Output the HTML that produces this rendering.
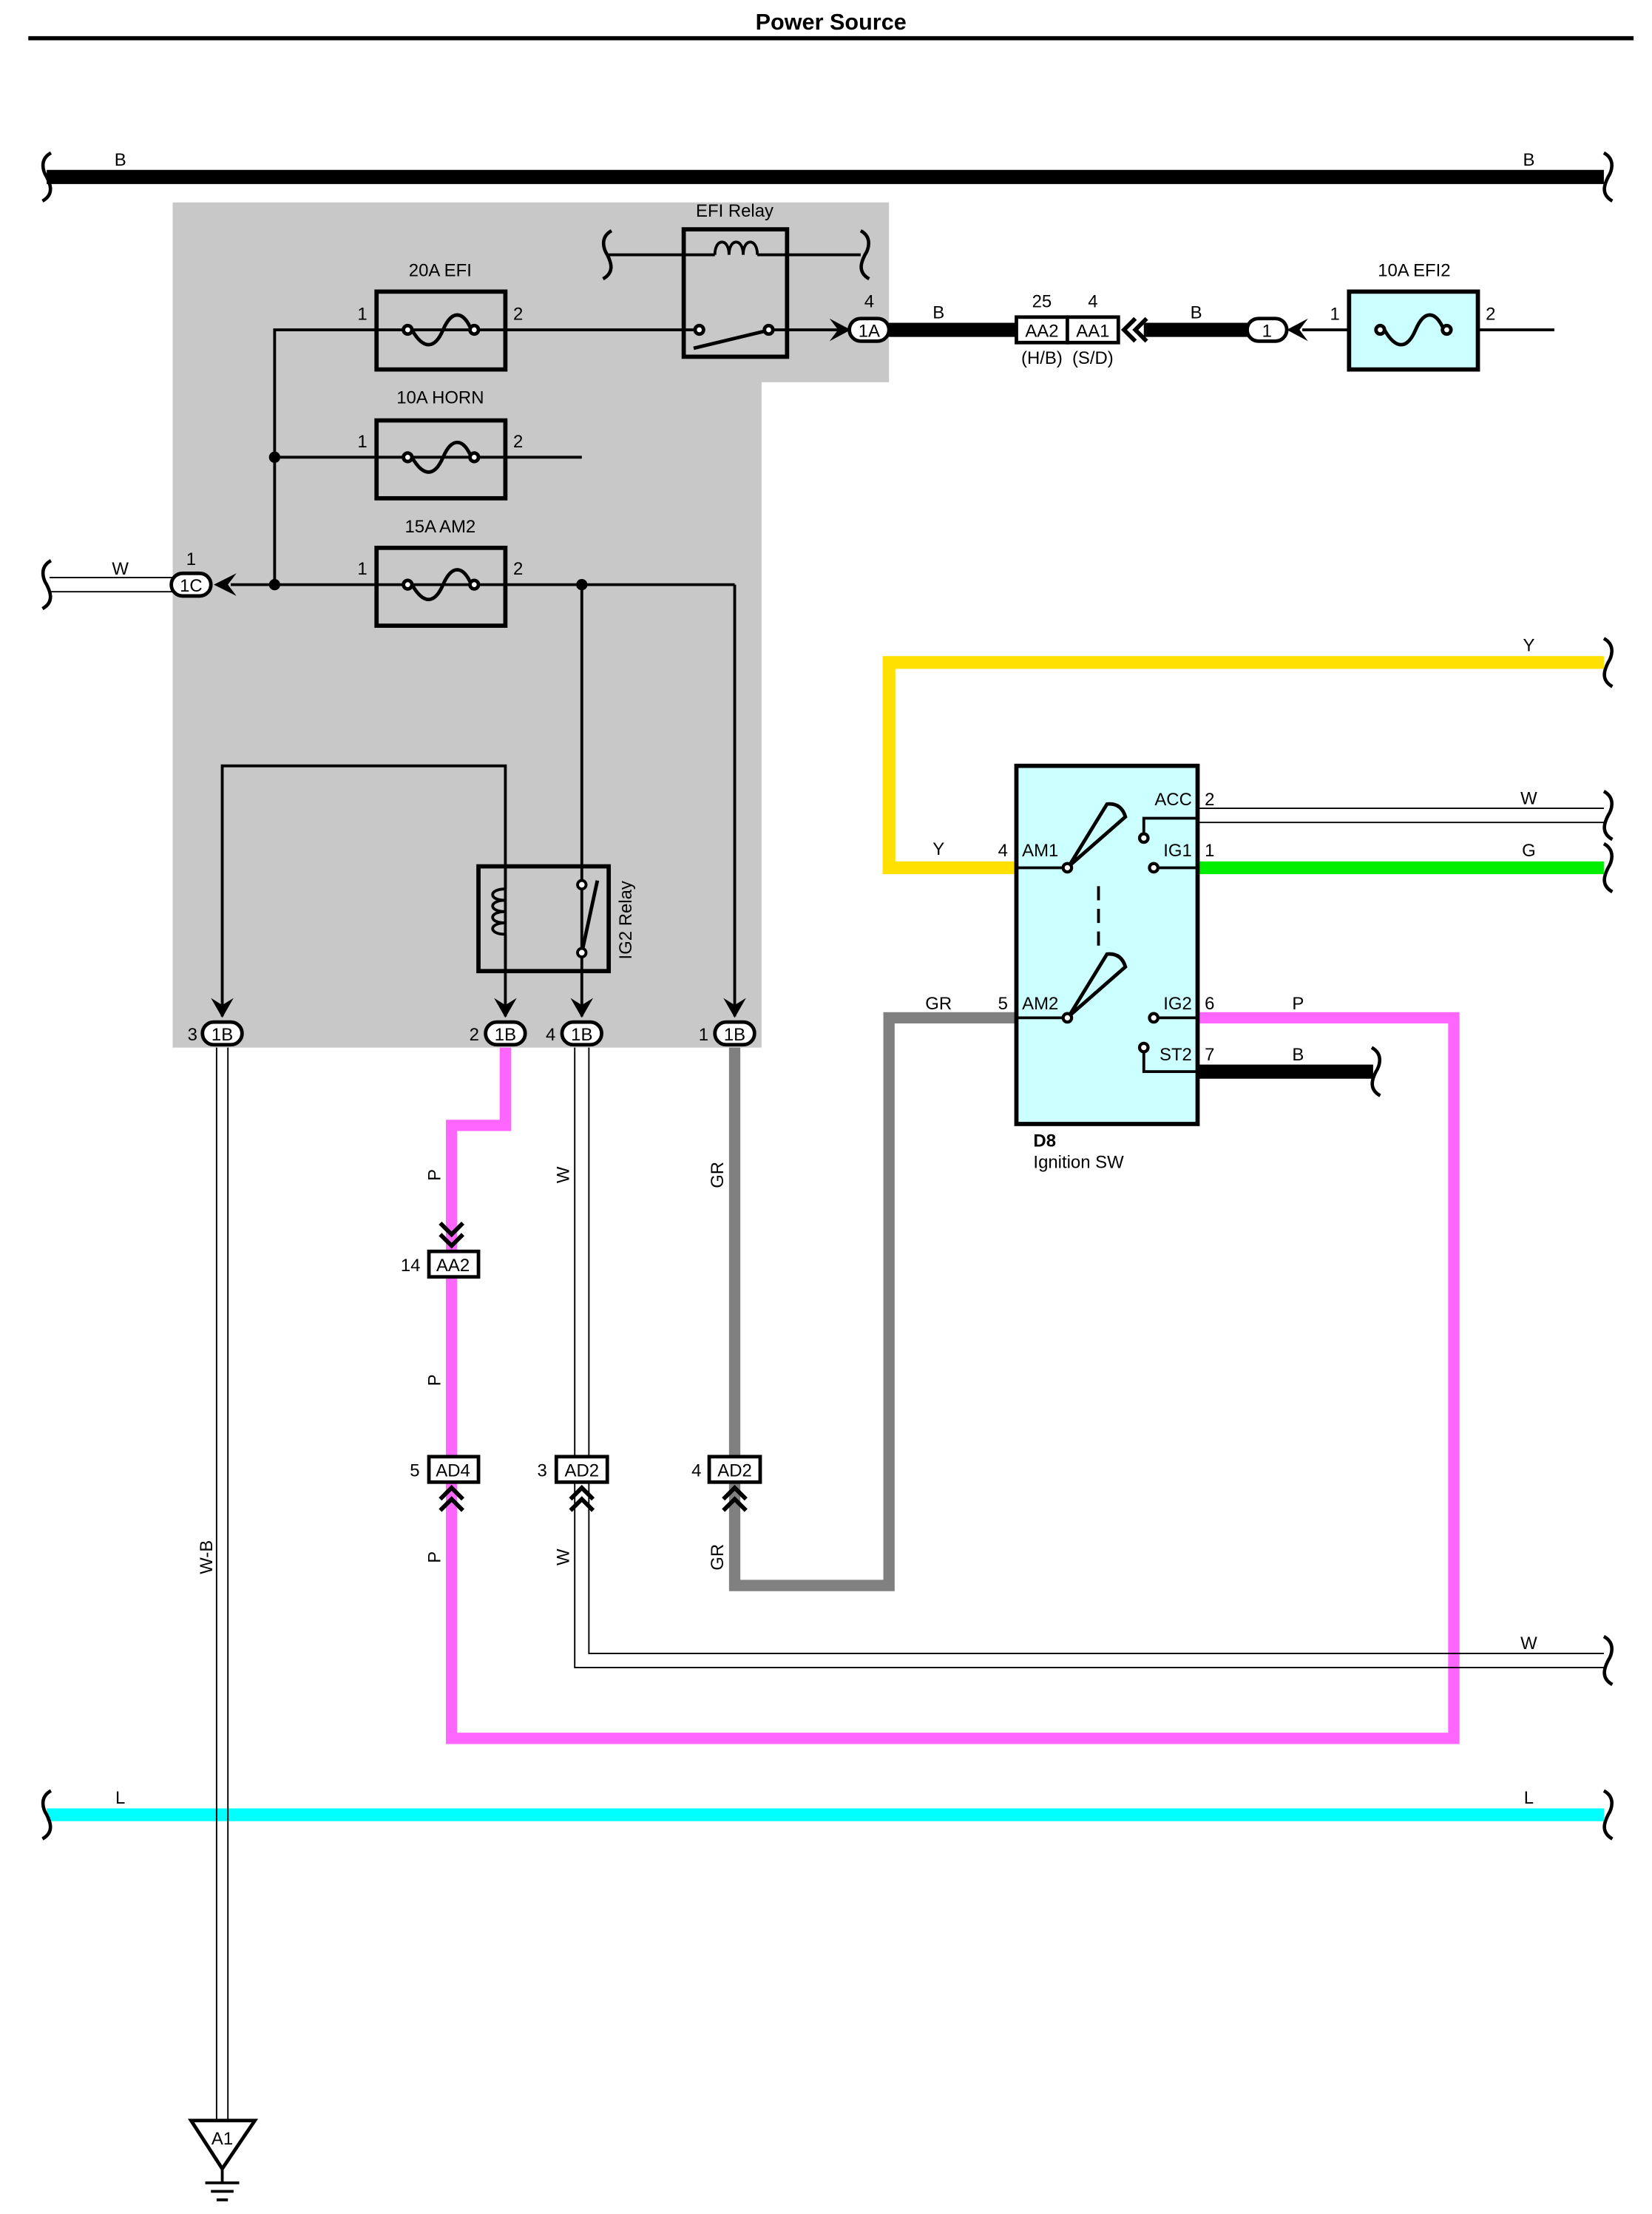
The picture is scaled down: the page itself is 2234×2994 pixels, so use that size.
<!DOCTYPE html>
<html><head><meta charset="utf-8"><style>
html,body{margin:0;padding:0;background:#fff}
svg{display:block}
text{font-family:"Liberation Sans",sans-serif;font-size:12.5px;fill:#000}
</style></head><body>
<svg width="2234" height="2994" viewBox="0 0 1167 1564" preserveAspectRatio="none" xmlns="http://www.w3.org/2000/svg">
<defs>
<path id="sq" d="M2,-17 C-7,-12 -3,-3 -1,0 C1,4 5,12 -4,17" fill="none" stroke="#000" stroke-width="2.4"/>
<path id="sqr" d="M-2,-17 C7,-12 3,-3 1,0 C-1,4 -5,12 4,17" fill="none" stroke="#000" stroke-width="2.4"/>
</defs>
<text x="587" y="21" text-anchor="middle" font-weight="bold" style="font-size:16px">Power Source</text>
<line x1="20" y1="27" x2="1154" y2="27" stroke="#000" stroke-width="3"/>

<!-- B bus -->
<line x1="33" y1="125" x2="1133" y2="125" stroke="#000" stroke-width="10"/>
<use href="#sq" x="34" y="125"/><use href="#sqr" x="1135" y="125"/>
<text x="85" y="117" text-anchor="middle">B</text><text x="1080" y="117" text-anchor="middle">B</text>

<!-- grey area -->
<polygon points="122,143 628,143 628,270 538,270 538,740 122,740" fill="#c8c8c8"/>

<g stroke="#000" stroke-width="2" fill="none">
<polyline points="194,413 194,233 493,233"/>
<line x1="194" y1="323" x2="411" y2="323"/>
<line x1="163" y1="413" x2="519" y2="413"/>
<polyline points="411,413 411,718"/>
<polyline points="519,413 519,718"/>
<polyline points="157,718 157,541 357,541 357,718"/>
<line x1="543" y1="233" x2="598" y2="233"/>
<line x1="920" y1="233" x2="1098" y2="233"/>
<line x1="430" y1="180" x2="505" y2="180"/><line x1="535" y1="180" x2="608" y2="180"/>
<path d="M505,180 c0,-12 10,-12 10,0 c0,-12 10,-12 10,0 c0,-12 10,-12 10,0"/>
</g>
<use href="#sq" x="430" y="180"/><use href="#sqr" x="610" y="180"/>
<circle cx="194" cy="323" r="4"/><circle cx="194" cy="413" r="4"/><circle cx="411" cy="413" r="4"/>

<g stroke="#000" stroke-width="3" fill="none">
<rect x="266" y="206" width="91" height="55"/>
<rect x="266" y="297" width="91" height="55"/>
<rect x="266" y="387" width="91" height="55"/>
<rect x="953" y="206" width="91" height="55" fill="#ccffff"/>
<rect x="483" y="162" width="73" height="90"/>
</g>
<g stroke="#000" stroke-width="2.5" fill="#fff">
<path d="M291,233 c8,14 16,14 22,0 c6,-14 14,-14 20,0" fill="none"/>
<path d="M291,323 c8,14 16,14 22,0 c6,-14 14,-14 20,0" fill="none"/>
<path d="M291,413 c8,14 16,14 22,0 c6,-14 14,-14 20,0" fill="none"/>
<path d="M978,233 c8,14 16,14 22,0 c6,-14 14,-14 20,0" fill="none"/>
<circle cx="288" cy="233" r="3"/><circle cx="335" cy="233" r="3"/>
<circle cx="288" cy="323" r="3"/><circle cx="335" cy="323" r="3"/>
<circle cx="288" cy="413" r="3"/><circle cx="335" cy="413" r="3"/>
<circle cx="975" cy="233" r="3"/><circle cx="1022" cy="233" r="3"/>
<line x1="490" y1="246" x2="540" y2="234"/>
<circle cx="494" cy="233" r="3"/><circle cx="543" cy="233" r="3"/>
</g>
<text x="311" y="195" text-anchor="middle">20A EFI</text>
<text x="311" y="285" text-anchor="middle">10A HORN</text>
<text x="311" y="376" text-anchor="middle">15A AM2</text>
<text x="999" y="195" text-anchor="middle">10A EFI2</text>
<text x="519" y="153" text-anchor="middle">EFI Relay</text>
<g text-anchor="middle">
<text x="256" y="226">1</text><text x="366" y="226">2</text>
<text x="256" y="316">1</text><text x="366" y="316">2</text>
<text x="256" y="406">1</text><text x="366" y="406">2</text>
<text x="943" y="226">1</text><text x="1053" y="226">2</text>
</g>

<polygon points="586,225 601,233 586,241 592,233" fill="#000"/>
<rect x="600" y="225" width="28" height="16" rx="8" fill="#fff" stroke="#000" stroke-width="2.5"/>
<text x="614" y="238" text-anchor="middle">1A</text><text x="614" y="217" text-anchor="middle">4</text>
<line x1="628" y1="233" x2="718" y2="233" stroke="#000" stroke-width="10"/>
<text x="663" y="225" text-anchor="middle">B</text>
<rect x="718" y="224" width="36" height="18" fill="#fff" stroke="#000" stroke-width="2.5"/>
<rect x="754" y="224" width="36" height="18" fill="#fff" stroke="#000" stroke-width="2.5"/>
<text x="736" y="238" text-anchor="middle">AA2</text><text x="772" y="238" text-anchor="middle">AA1</text>
<text x="736" y="217" text-anchor="middle">25</text><text x="772" y="217" text-anchor="middle">4</text>
<text x="736" y="257" text-anchor="middle">(H/B)</text><text x="772" y="257" text-anchor="middle">(S/D)</text>
<path d="M802,225 L794,233 L802,241 M810,225 L802,233 L810,241" fill="none" stroke="#000" stroke-width="3"/>
<line x1="808" y1="233" x2="882" y2="233" stroke="#000" stroke-width="10"/>
<text x="845" y="225" text-anchor="middle">B</text>
<rect x="881" y="225" width="28" height="16" rx="8" fill="#fff" stroke="#000" stroke-width="2.5"/>
<text x="895" y="238" text-anchor="middle">1</text>
<polygon points="924,225 909,233 924,241 918,233" fill="#000"/>

<line x1="35" y1="408" x2="122" y2="408" stroke="#000" stroke-width="1"/>
<line x1="35" y1="418" x2="122" y2="418" stroke="#000" stroke-width="1"/>
<use href="#sq" x="34" y="413"/>
<text x="85" y="406" text-anchor="middle">W</text>
<rect x="121" y="405" width="28" height="16" rx="8" fill="#fff" stroke="#000" stroke-width="2.5"/>
<text x="135" y="418" text-anchor="middle">1C</text><text x="135" y="399" text-anchor="middle">1</text>
<polygon points="167,405 151,413 167,421 161,413" fill="#000"/>

<rect x="338" y="612" width="92" height="74" fill="none" stroke="#000" stroke-width="3"/>
<path d="M357,628 c-12,0 -12,8 0,8 c-12,0 -12,8 0,8 c-12,0 -12,8 0,8 c-12,0 -12,8 0,8" fill="none" stroke="#000" stroke-width="2"/>
<line x1="357" y1="612" x2="357" y2="628" stroke="#000" stroke-width="2"/>
<line x1="357" y1="660" x2="357" y2="686" stroke="#000" stroke-width="2"/>
<line x1="411" y1="673" x2="422" y2="622" stroke="#000" stroke-width="2.5"/>
<circle cx="411" cy="625" r="3" fill="#fff" stroke="#000" stroke-width="2"/>
<circle cx="411" cy="673" r="3" fill="#fff" stroke="#000" stroke-width="2"/>
<text transform="translate(446,650) rotate(-90)" text-anchor="middle">IG2 Relay</text>

<polyline points="357,740 357,795 319,795 319,1228 1027,1228 1027,719 846,719" fill="none" stroke="#ff66ff" stroke-width="8"/>
<polyline points="519,740 519,1120 628,1120 628,719 718,719" fill="none" stroke="#808080" stroke-width="8"/>
<polyline points="1133,468 628,468 628,613 718,613" fill="none" stroke="#ffe000" stroke-width="9"/>
<polyline points="406,740 406,1178 1133,1178" fill="none" stroke="#000" stroke-width="1"/>
<polyline points="416,740 416,1168 1133,1168" fill="none" stroke="#000" stroke-width="1"/>
<line x1="846" y1="613" x2="1133" y2="613" stroke="#00ee00" stroke-width="9"/>
<line x1="846" y1="571" x2="1133" y2="571" stroke="#000" stroke-width="1"/>
<line x1="846" y1="581" x2="1133" y2="581" stroke="#000" stroke-width="1"/>
<line x1="846" y1="757" x2="970" y2="757" stroke="#000" stroke-width="10"/>
<line x1="33" y1="1282" x2="1133" y2="1282" stroke="#00ffff" stroke-width="9"/>
<line x1="153" y1="740" x2="153" y2="1500" stroke="#000" stroke-width="1"/>
<line x1="161" y1="740" x2="161" y2="1500" stroke="#000" stroke-width="1"/>
<use href="#sqr" x="1135" y="468"/><use href="#sqr" x="1135" y="576"/><use href="#sqr" x="1135" y="613"/>
<use href="#sqr" x="971" y="757"/><use href="#sqr" x="1135" y="1173"/>
<use href="#sq" x="34" y="1282"/><use href="#sqr" x="1135" y="1282"/>

<g fill="#000">
<polygon points="149,705 157,719 165,705 157,710"/>
<polygon points="349,705 357,719 365,705 357,710"/>
<polygon points="403,705 411,719 419,705 411,710"/>
<polygon points="511,705 519,719 527,705 519,710"/>
</g>
<g fill="#fff" stroke="#000" stroke-width="2.5">
<rect x="143" y="722" width="28" height="16" rx="8"/>
<rect x="343" y="722" width="28" height="16" rx="8"/>
<rect x="397" y="722" width="28" height="16" rx="8"/>
<rect x="505" y="722" width="28" height="16" rx="8"/>
</g>
<g text-anchor="middle">
<text x="157" y="735">1B</text><text x="357" y="735">1B</text><text x="411" y="735">1B</text><text x="519" y="735">1B</text>
<text x="136" y="735">3</text><text x="335" y="735">2</text><text x="389" y="735">4</text><text x="497" y="735">1</text>
</g>

<path d="M311,864 L319,872 L327,864 M311,872 L319,880 L327,872" fill="none" stroke="#000" stroke-width="3"/>
<g fill="#fff" stroke="#000" stroke-width="2.5">
<rect x="303" y="884" width="35" height="18"/>
<rect x="303" y="1029" width="35" height="18"/>
<rect x="393" y="1029" width="36" height="18"/>
<rect x="501" y="1029" width="36" height="18"/>
</g>
<text x="320" y="898" text-anchor="middle">AA2</text><text x="290" y="898" text-anchor="middle">14</text>
<text x="320" y="1043" text-anchor="middle">AD4</text><text x="293" y="1043" text-anchor="middle">5</text>
<text x="411" y="1043" text-anchor="middle">AD2</text><text x="383" y="1043" text-anchor="middle">3</text>
<text x="519" y="1043" text-anchor="middle">AD2</text><text x="492" y="1043" text-anchor="middle">4</text>
<path d="M311,1059 L319,1051 L327,1059 M311,1067 L319,1059 L327,1067 M403,1059 L411,1051 L419,1059 M403,1067 L411,1059 L419,1067 M511,1059 L519,1051 L527,1059 M511,1067 L519,1059 L527,1067" fill="none" stroke="#000" stroke-width="3"/>
<g>
<text transform="translate(311,830) rotate(-90)" text-anchor="middle">P</text>
<text transform="translate(311,975) rotate(-90)" text-anchor="middle">P</text>
<text transform="translate(311,1100) rotate(-90)" text-anchor="middle">P</text>
<text transform="translate(402,830) rotate(-90)" text-anchor="middle">W</text>
<text transform="translate(402,1100) rotate(-90)" text-anchor="middle">W</text>
<text transform="translate(511,830) rotate(-90)" text-anchor="middle">GR</text>
<text transform="translate(511,1100) rotate(-90)" text-anchor="middle">GR</text>
<text transform="translate(150,1100) rotate(-90)" text-anchor="middle">W-B</text>
</g>

<polygon points="135,1498 180,1498 157,1532" fill="#fff" stroke="#000" stroke-width="2.5"/>
<text x="157" y="1515" text-anchor="middle">A1</text>
<g stroke="#000" stroke-width="2"><line x1="157" y1="1532" x2="157" y2="1542"/><line x1="145" y1="1542" x2="169" y2="1542"/><line x1="149" y1="1548" x2="165" y2="1548"/><line x1="153" y1="1554" x2="161" y2="1554"/></g>

<rect x="718" y="541" width="128" height="253" fill="#ccffff" stroke="#000" stroke-width="3"/>
<g stroke="#000" stroke-width="2" fill="none">
<line x1="718" y1="613" x2="754" y2="613"/><line x1="718" y1="719" x2="754" y2="719"/>
<path d="M755,612 L782,568 Q792,567 795,577 Z" stroke-width="2.5"/>
<path d="M755,718 L782,674 Q792,673 795,683 Z" stroke-width="2.5"/>
<line x1="776" y1="626" x2="776" y2="670" stroke-dasharray="10,6"/>
<polyline points="846,578 808,578 808,590"/>
<line x1="815" y1="613" x2="846" y2="613"/>
<line x1="815" y1="719" x2="846" y2="719"/>
<polyline points="808,742 808,757 846,757"/>
</g>
<g fill="#fff" stroke="#000" stroke-width="2.2">
<circle cx="754" cy="613" r="3"/><circle cx="754" cy="719" r="3"/>
<circle cx="808" cy="592" r="3"/><circle cx="815" cy="613" r="3"/>
<circle cx="815" cy="719" r="3"/><circle cx="808" cy="740" r="3"/>
</g>
<text x="722" y="605">AM1</text><text x="722" y="713">AM2</text>
<text x="842" y="569" text-anchor="end">ACC</text><text x="842" y="605" text-anchor="end">IG1</text>
<text x="842" y="713" text-anchor="end">IG2</text><text x="842" y="749" text-anchor="end">ST2</text>
<text x="851" y="569">2</text><text x="851" y="605">1</text><text x="851" y="713">6</text><text x="851" y="749">7</text>
<text x="712" y="605" text-anchor="end">4</text><text x="712" y="713" text-anchor="end">5</text>
<text x="730" y="810" font-weight="bold">D8</text><text x="730" y="825">Ignition SW</text>
<g text-anchor="middle">
<text x="663" y="604">Y</text><text x="663" y="713">GR</text>
<text x="1080" y="460">Y</text><text x="1080" y="568">W</text><text x="1080" y="605">G</text>
<text x="917" y="713">P</text><text x="917" y="749">B</text>
<text x="1080" y="1165">W</text>
<text x="85" y="1274">L</text><text x="1080" y="1274">L</text>
</g>
</svg>
</body></html>
